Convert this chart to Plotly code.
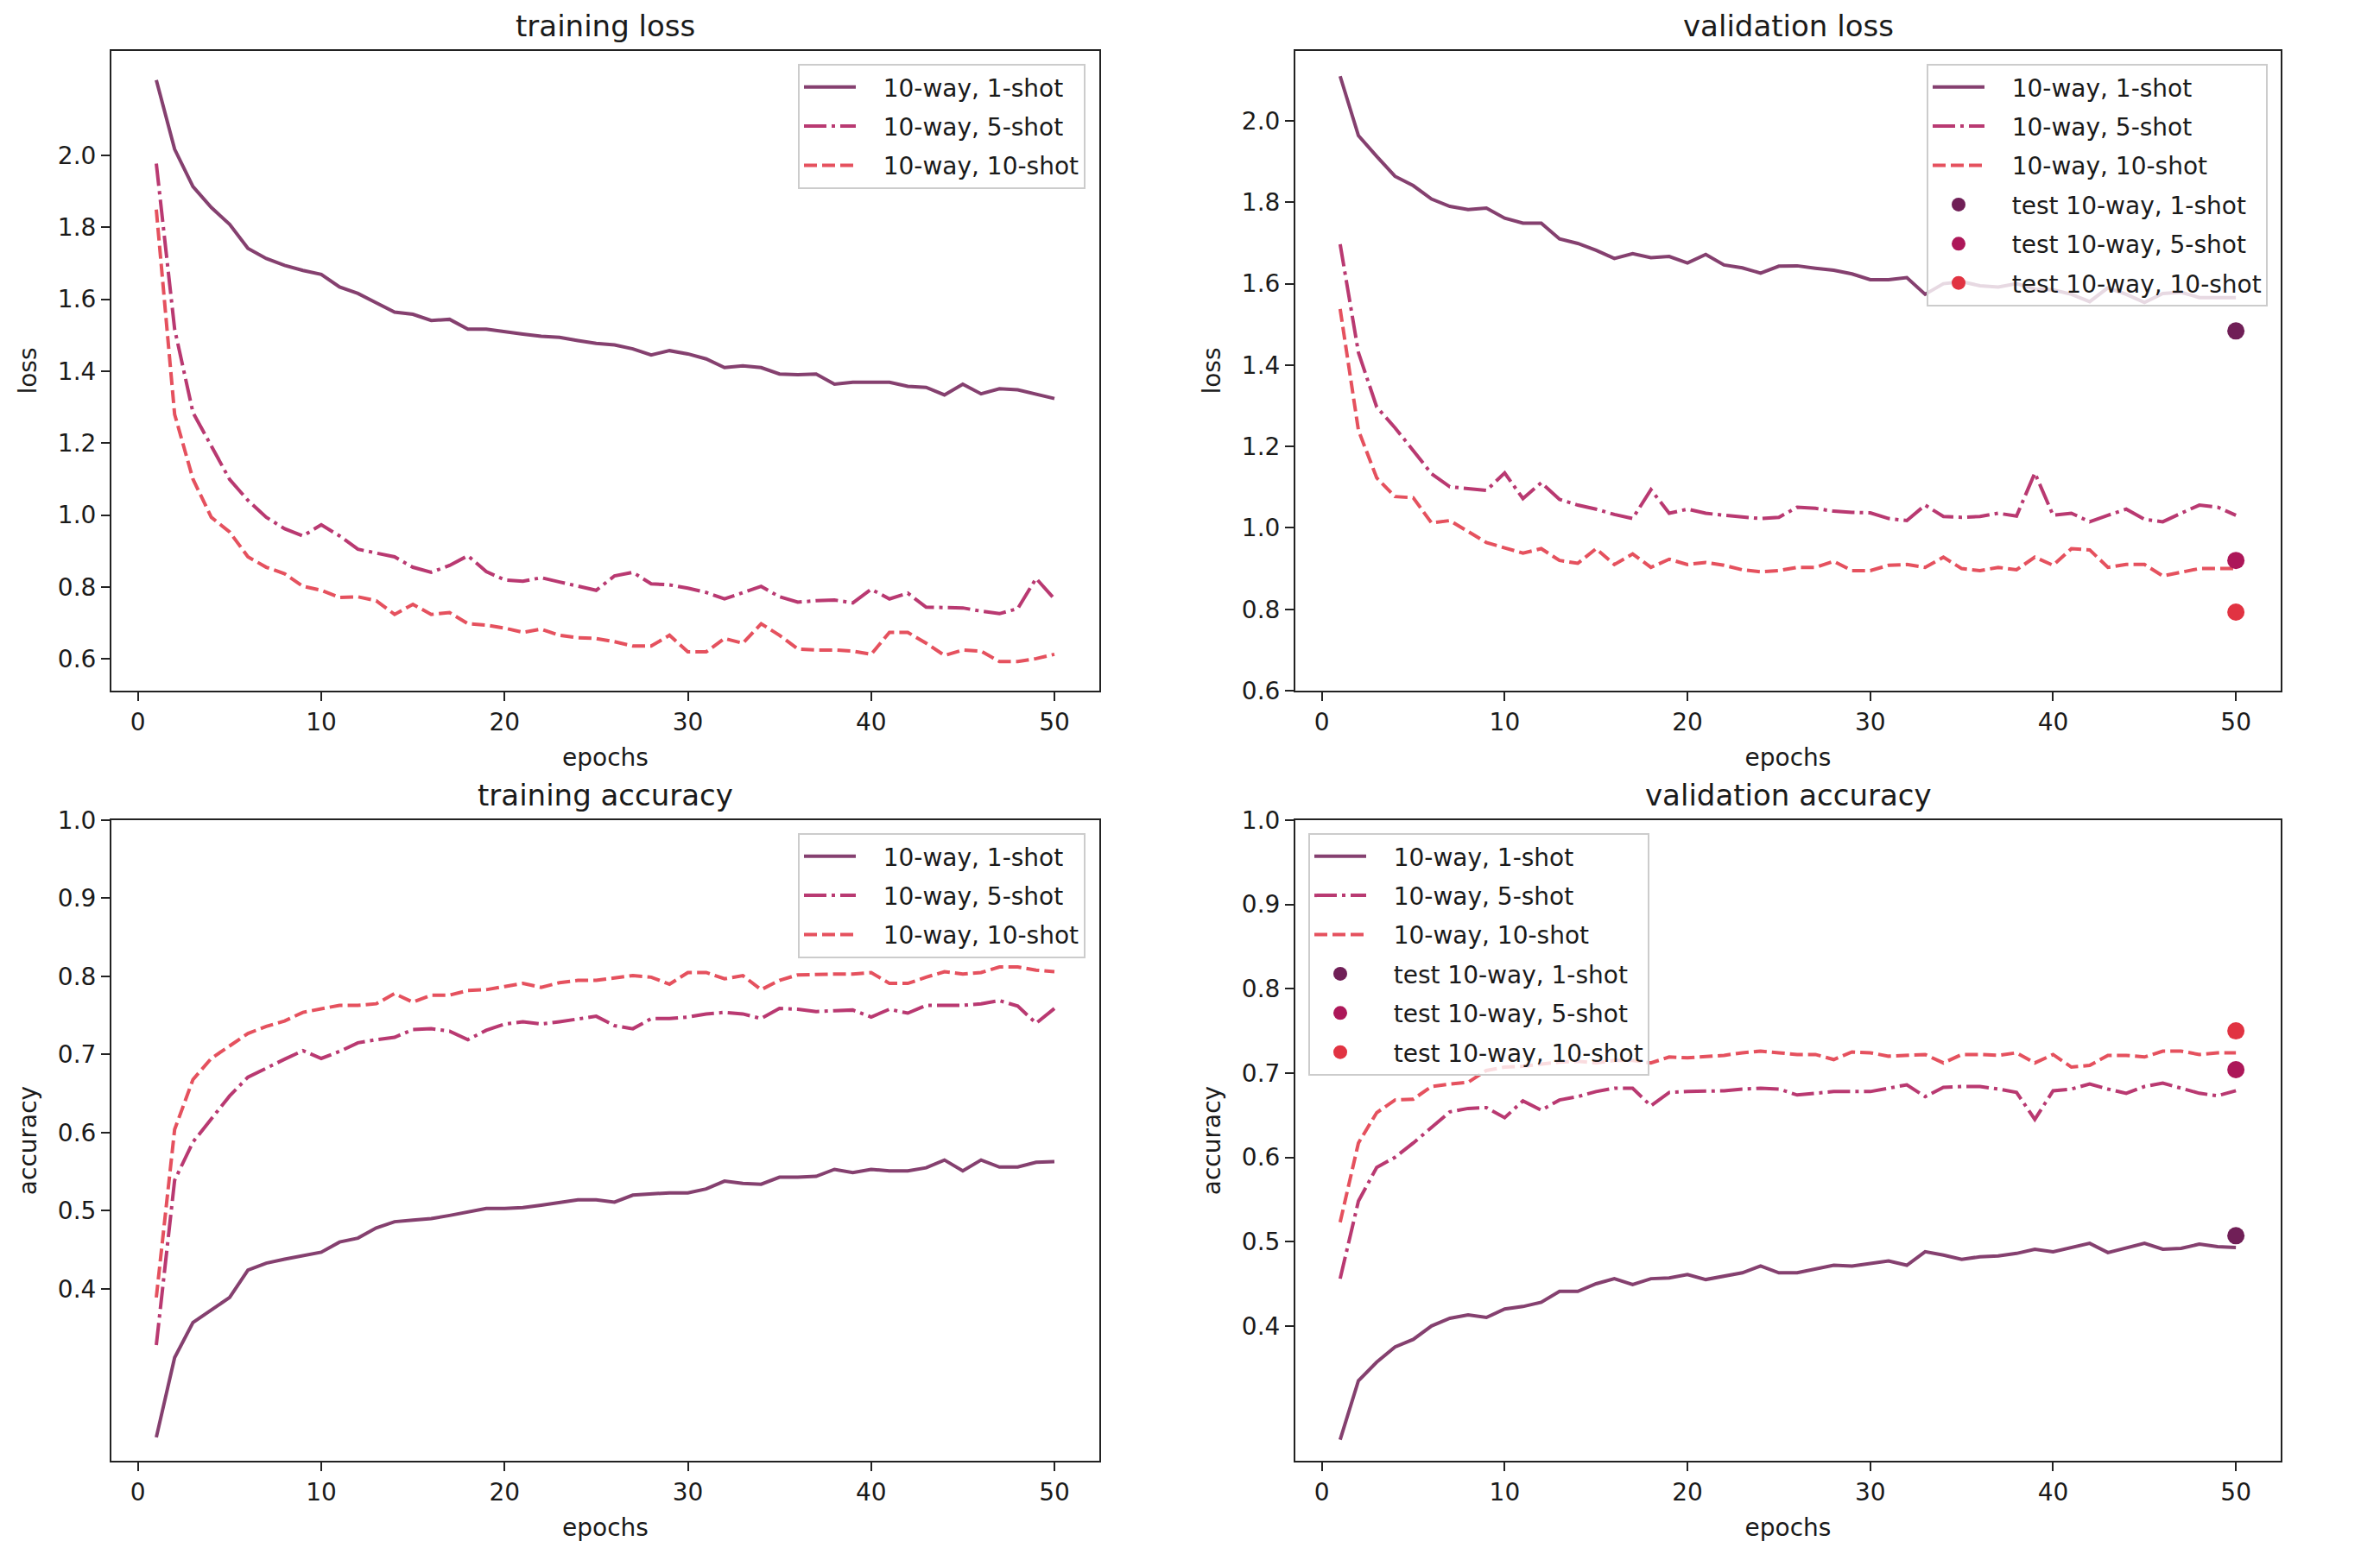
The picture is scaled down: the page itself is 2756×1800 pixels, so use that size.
import plotly.graph_objects as go

epochs = list(range(1, 51))
labels = ["10-way, 1-shot", "10-way, 5-shot", "10-way, 10-shot"]
test_labels = ["test 10-way, 1-shot", "test 10-way, 5-shot", "test 10-way, 10-shot"]

train_loss_1 = [2.209, 2.017, 1.913, 1.855, 1.808, 1.741, 1.713, 1.694, 1.680, 1.669,
                1.634, 1.616, 1.590, 1.564, 1.558, 1.541, 1.544, 1.517, 1.517, 1.509,
                1.503, 1.497, 1.494, 1.485, 1.477, 1.473, 1.462, 1.445, 1.457, 1.448,
                1.434, 1.410, 1.415, 1.410, 1.392, 1.390, 1.392, 1.364, 1.369, 1.369,
                1.369, 1.358, 1.355, 1.334, 1.364, 1.337, 1.351, 1.348, 1.337, 1.324]
train_loss_5 = [1.977, 1.517, 1.285, 1.192, 1.099, 1.041, 0.994, 0.962, 0.942, 0.973,
                0.942, 0.905, 0.895, 0.884, 0.855, 0.841, 0.860, 0.887, 0.843, 0.820,
                0.816, 0.826, 0.814, 0.802, 0.791, 0.831, 0.841, 0.809, 0.806, 0.797,
                0.785, 0.767, 0.785, 0.802, 0.773, 0.758, 0.762, 0.764, 0.756, 0.794,
                0.767, 0.783, 0.744, 0.744, 0.742, 0.733, 0.726, 0.740, 0.824, 0.767]
train_loss_10 = [1.849, 1.280, 1.100, 0.994, 0.953, 0.884, 0.855, 0.837, 0.802, 0.791,
                 0.771, 0.773, 0.762, 0.724, 0.752, 0.724, 0.729, 0.698, 0.694, 0.686,
                 0.674, 0.683, 0.666, 0.659, 0.657, 0.648, 0.636, 0.636, 0.666, 0.620,
                 0.620, 0.657, 0.644, 0.698, 0.666, 0.628, 0.625, 0.625, 0.622, 0.613,
                 0.674, 0.674, 0.644, 0.610, 0.625, 0.622, 0.593, 0.593, 0.601, 0.613]

val_loss_1 = [2.110, 1.964, 1.913, 1.864, 1.841, 1.808, 1.790, 1.782, 1.786, 1.761,
              1.749, 1.749, 1.710, 1.699, 1.682, 1.662, 1.674, 1.664, 1.667, 1.651,
              1.672, 1.646, 1.639, 1.626, 1.643, 1.644, 1.638, 1.633, 1.624, 1.610,
              1.610, 1.615, 1.574, 1.600, 1.605, 1.595, 1.592, 1.600, 1.587, 1.585,
              1.574, 1.556, 1.590, 1.574, 1.554, 1.576, 1.579, 1.566, 1.566, 1.566]
val_loss_5 = [1.697, 1.431, 1.297, 1.246, 1.190, 1.133, 1.101, 1.097, 1.092, 1.135,
              1.072, 1.111, 1.070, 1.056, 1.046, 1.033, 1.023, 1.094, 1.036, 1.046,
              1.036, 1.031, 1.026, 1.023, 1.026, 1.051, 1.048, 1.041, 1.038, 1.037,
              1.023, 1.018, 1.056, 1.028, 1.026, 1.028, 1.036, 1.029, 1.135, 1.031,
              1.036, 1.015, 1.031, 1.046, 1.021, 1.015, 1.036, 1.056, 1.051, 1.031]
val_loss_10 = [1.538, 1.240, 1.123, 1.077, 1.074, 1.012, 1.018, 0.992, 0.964, 0.951,
               0.938, 0.949, 0.920, 0.913, 0.949, 0.910, 0.936, 0.903, 0.923, 0.910,
               0.915, 0.908, 0.897, 0.892, 0.895, 0.903, 0.903, 0.918, 0.895, 0.895,
               0.908, 0.910, 0.903, 0.928, 0.900, 0.895, 0.903, 0.897, 0.928, 0.908,
               0.949, 0.946, 0.903, 0.910, 0.910, 0.882, 0.892, 0.900, 0.900, 0.900]
test_loss = [1.484, 0.920, 0.793]

train_acc_1 = [0.210, 0.312, 0.357, 0.373, 0.389, 0.424, 0.433, 0.438, 0.443, 0.447,
               0.460, 0.465, 0.478, 0.486, 0.488, 0.490, 0.494, 0.499, 0.503, 0.503,
               0.504, 0.507, 0.511, 0.514, 0.514, 0.511, 0.520, 0.522, 0.523, 0.523,
               0.528, 0.538, 0.535, 0.534, 0.543, 0.543, 0.544, 0.553, 0.549, 0.553,
               0.551, 0.551, 0.555, 0.565, 0.551, 0.565, 0.556, 0.556, 0.562, 0.563]
train_acc_5 = [0.328, 0.539, 0.588, 0.617, 0.647, 0.671, 0.683, 0.694, 0.705, 0.695,
               0.704, 0.715, 0.719, 0.722, 0.732, 0.733, 0.730, 0.719, 0.731, 0.739,
               0.742, 0.739, 0.742, 0.745, 0.749, 0.737, 0.733, 0.746, 0.746, 0.748,
               0.752, 0.754, 0.752, 0.746, 0.759, 0.758, 0.755, 0.756, 0.757, 0.748,
               0.758, 0.753, 0.763, 0.763, 0.763, 0.765, 0.769, 0.762, 0.740, 0.759]
train_acc_10 = [0.389, 0.604, 0.668, 0.695, 0.711, 0.727, 0.736, 0.743, 0.754, 0.759,
                0.763, 0.763, 0.765, 0.778, 0.767, 0.776, 0.776, 0.782, 0.783, 0.787,
                0.791, 0.786, 0.792, 0.795, 0.795, 0.798, 0.801, 0.799, 0.790, 0.805,
                0.805, 0.797, 0.801, 0.783, 0.795, 0.802, 0.803, 0.803, 0.803, 0.805,
                0.791, 0.791, 0.799, 0.806, 0.803, 0.805, 0.812, 0.812, 0.808, 0.806]

val_acc_1 = [0.265, 0.335, 0.357, 0.375, 0.384, 0.400, 0.409, 0.413, 0.410, 0.420,
             0.423, 0.428, 0.441, 0.441, 0.450, 0.456, 0.449, 0.456, 0.457, 0.461,
             0.455, 0.459, 0.463, 0.471, 0.463, 0.463, 0.468, 0.472, 0.471, 0.474,
             0.477, 0.472, 0.488, 0.484, 0.479, 0.482, 0.483, 0.486, 0.491, 0.488,
             0.493, 0.498, 0.487, 0.493, 0.498, 0.491, 0.492, 0.497, 0.494, 0.493]
val_acc_5 = [0.456, 0.548, 0.588, 0.600, 0.617, 0.635, 0.654, 0.658, 0.659, 0.647,
             0.667, 0.656, 0.668, 0.672, 0.678, 0.682, 0.682, 0.661, 0.677, 0.678,
             0.678, 0.679, 0.681, 0.682, 0.681, 0.674, 0.676, 0.678, 0.678, 0.678,
             0.682, 0.686, 0.672, 0.683, 0.684, 0.684, 0.681, 0.677, 0.645, 0.679,
             0.681, 0.687, 0.681, 0.676, 0.684, 0.688, 0.682, 0.676, 0.673, 0.679]
val_acc_10 = [0.523, 0.617, 0.653, 0.668, 0.669, 0.684, 0.687, 0.689, 0.703, 0.707,
              0.708, 0.711, 0.713, 0.714, 0.712, 0.715, 0.715, 0.712, 0.719, 0.718,
              0.719, 0.721, 0.724, 0.726, 0.724, 0.722, 0.722, 0.716, 0.725, 0.724,
              0.720, 0.721, 0.722, 0.712, 0.722, 0.722, 0.721, 0.724, 0.712, 0.722,
              0.707, 0.709, 0.721, 0.721, 0.719, 0.726, 0.726, 0.722, 0.724, 0.724]
test_acc = [0.507, 0.704, 0.750]

loss_ticks = [0.6, 0.8, 1.0, 1.2, 1.4, 1.6, 1.8, 2.0]
acc_ticks = [0.4, 0.5, 0.6, 0.7, 0.8, 0.9, 1.0]
x_ticks = [0, 10, 20, 30, 40, 50]

colors = ["#701f57", "#ad1759", "#e13342"]
dashes = ["solid", "26px,6px,4px,6px", "15px,6px"]

FONT = "DejaVu Sans"
W, H = 2756, 1800
TXT = "#1a1a1a"
GAP = "\u00a0\u00a0\u00a0"  # spacing between legend handle and label text

# panel geometry in pixels: (left, right, top, bottom)
panels = [
    (129, 1273, 59, 800),
    (1500, 2641, 59, 800),
    (129, 1273, 950, 1692),
    (1500, 2641, 950, 1692),
]

fig = go.Figure()

panel_data = [
    ("training loss", "loss", [train_loss_1, train_loss_5, train_loss_10], None,
     [0.512, 2.290], loss_ticks),
    ("validation loss", "loss", [val_loss_1, val_loss_5, val_loss_10], test_loss,
     [0.6, 2.172], loss_ticks),
    ("training accuracy", "accuracy", [train_acc_1, train_acc_5, train_acc_10], None,
     [0.18, 1.0], acc_ticks),
    ("validation accuracy", "accuracy", [val_acc_1, val_acc_5, val_acc_10], test_acc,
     [0.24, 1.0], acc_ticks),
]

legend_names = ["legend", "legend2", "legend3", "legend4"]
annotations = []
layout_axes = {}

for i, ((title, ylab, series, tests, yr, yt), (l, r, t, b)) in enumerate(zip(panel_data, panels)):
    n = "" if i == 0 else str(i + 1)
    xa = "x" + n
    ya = "y" + n
    for j, s in enumerate(series):
        fig.add_trace(go.Scatter(
            x=epochs, y=s, mode="lines", name=GAP + labels[j],
            line=dict(color=colors[j], width=4, dash=dashes[j]),
            opacity=0.85, xaxis=xa, yaxis=ya, legend=legend_names[i],
            legendgroup=f"g{i}_{j}",
        ))
    if tests is not None:
        for j, v in enumerate(tests):
            fig.add_trace(go.Scatter(
                x=[epochs[-1]], y=[v], mode="markers", name=GAP + test_labels[j],
                marker=dict(color=colors[j], size=20),
                xaxis=xa, yaxis=ya, legend=legend_names[i],
                legendgroup=f"t{i}_{j}",
            ))
    axis_common = dict(
        showline=True, linecolor="#222", linewidth=2, mirror=True,
        ticks="outside", ticklen=10, tickwidth=2, tickcolor="#222",
        showgrid=False, zeroline=False, automargin=False,
        tickfont=dict(family=FONT, size=28, color=TXT),
    )
    layout_axes["xaxis" + n] = dict(
        axis_common, domain=[l / W, r / W], range=[-1.45, 52.45],
        tickvals=x_ticks, anchor=ya,
        title=dict(text="epochs", font=dict(family=FONT, size=28, color=TXT), standoff=16),
    )
    layout_axes["yaxis" + n] = dict(
        axis_common, domain=[1 - b / H, 1 - t / H], range=yr,
        tickvals=yt, ticktext=[f"{v:.1f}" for v in yt], anchor=xa,
        title=dict(text=ylab, font=dict(family=FONT, size=28, color=TXT), standoff=16),
    )
    annotations.append(dict(
        text=title, x=(l + r) / 2 / W, y=1 - t / H, xref="paper", yref="paper",
        xanchor="center", yanchor="middle", yshift=29, showarrow=False,
        font=dict(family=FONT, size=34, color=TXT),
    ))

legend_common = dict(
    bgcolor="rgba(255,255,255,0.8)", bordercolor="#cccccc", borderwidth=2,
    font=dict(family=FONT, size=28, color=TXT), tracegroupgap=6,
    itemwidth=60,
)

fig.update_layout(
    width=W, height=H,
    margin=dict(l=0, r=0, t=0, b=0),
    paper_bgcolor="white", plot_bgcolor="white",
    showlegend=True,
    annotations=annotations,
    legend=dict(legend_common, x=1257 / W, y=1 - 74 / H, xanchor="right", yanchor="top"),
    legend2=dict(legend_common, x=2626 / W, y=1 - 74 / H, xanchor="right", yanchor="top"),
    legend3=dict(legend_common, x=1257 / W, y=1 - 965 / H, xanchor="right", yanchor="top"),
    legend4=dict(legend_common, x=1515 / W, y=1 - 965 / H, xanchor="left", yanchor="top"),
    **layout_axes,
)

fig.write_html("out.html")
